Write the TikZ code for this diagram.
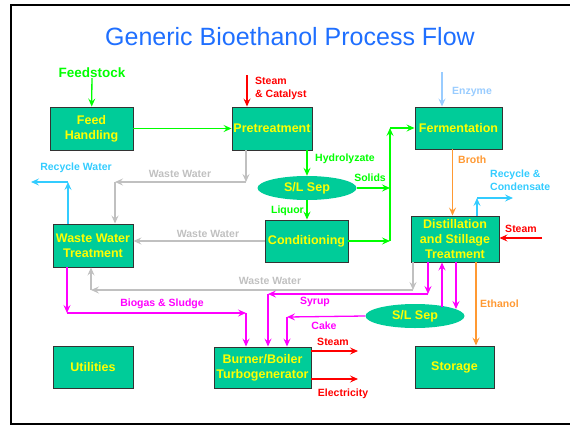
\documentclass[tikz,border=0pt]{standalone}
\usepackage{xcolor}
\usepackage{fontspec}
\setmainfont{Liberation Sans}
\usetikzlibrary{arrows.meta,shapes.geometric}
\definecolor{BioTeal}{HTML}{00CC99}
\definecolor{BioYellow}{HTML}{FFFF00}
\definecolor{BioTitle}{HTML}{1F6FFF}
\definecolor{BioGreen}{HTML}{00FF00}
\definecolor{BioRed}{HTML}{FF0000}
\definecolor{BioSky}{HTML}{99CCFF}
\definecolor{BioCyan}{HTML}{33CCFF}
\definecolor{BioGrey}{HTML}{C0C0C0}
\definecolor{BioOrange}{HTML}{FF9933}
\definecolor{BioMagenta}{HTML}{FF00FF}

\tikzset{
  unitbox/.style={draw=black!80, line width=0.9pt, fill=BioTeal, inner sep=0pt,
    align=center, text=BioYellow, font=\fontsize{12.5}{15}\selectfont\bfseries},
  sepbox/.style={ellipse, fill=BioTeal, inner sep=0pt, minimum width=99pt,
    minimum height=24pt, text=BioYellow, font=\fontsize{12.5}{15}\selectfont\bfseries},
  lbl/.style={inner sep=0pt, font=\fontsize{10.5}{13}\selectfont\bfseries, align=left},
  flow/.style={line width=1.3pt, -{Stealth[length=8pt,width=7pt,inset=3pt]}}
}

\begin{document}
\begin{tikzpicture}[x=1pt,y=-1pt]
    \useasboundingbox (0,0) rectangle (570,426);
    \draw[line width=2.5pt] (590,5) -- (11,5) -- (11,424) -- (590,424);
    \node[text=BioTitle, font=\fontsize{25}{30}\selectfont] (title) at (290,37) {Generic Bioethanol Process Flow};

    % process units
    \node[unitbox, minimum width=83pt, minimum height=43pt] (feed) at (91.5,128.5) {Feed\\Handling};
    \node[unitbox, minimum width=80pt, minimum height=43pt] (pre) at (272,128.5) {Pretreatment};
    \node[unitbox, minimum width=87pt, minimum height=42pt] (ferm) at (458.5,128) {Fermentation};
    \node[unitbox, minimum width=80pt, minimum height=43pt] (wwt) at (93,245.5) {Waste Water\\Treatment};
    \node[unitbox, minimum width=83pt, minimum height=42pt] (cond) at (306.5,241) {Conditioning};
    \node[unitbox, minimum width=88pt, minimum height=46pt] (dist) at (455,239) {Distillation\\and Stillage\\Treatment};
    \node[unitbox, minimum width=80pt, minimum height=42pt] (util) at (93,367) {Utilities};
    \node[unitbox, minimum width=97pt, minimum height=41pt] (burner) at (262.5,367.5) {Burner/Boiler\\Turbogenerator};
    \node[unitbox, minimum width=79pt, minimum height=42pt] (store) at (454.5,367) {Storage};
    \node[sepbox] (sep1) at (307,188) {S/L Sep};
    \node[sepbox] (sep2) at (415,316) {S/L Sep};

    % feed side
    \node[lbl, text=BioGreen, font=\fontsize{13.5}{16}\selectfont\bfseries] (feedstock) at (92,73) {Feedstock};
    \draw[flow, BioGreen] (feedstock) -- (feed);
    \draw[flow, BioGreen] (feed) -- (pre);
    \coordinate (catin) at (247,75);
    \draw[flow, BioRed] (catin) -- (catin |- pre.north);
    \node[lbl, text=BioRed, anchor=west] (catlbl) at (255,88) {Steam\\\& Catalyst};
    \coordinate (enzin) at (442,72);
    \draw[flow, BioSky] (enzin) -- (enzin |- ferm.north);
    \node[lbl, text=BioSky, anchor=west] (enzlbl) at (452,92) {Enzyme};

    % first separation
    \draw[flow, BioGreen] (sep1.north |- pre.south) -- (sep1.north);
    \node[lbl, text=BioGreen, anchor=west] (hydlbl) at (315,159) {Hydrolyzate};
    \draw[flow, BioGreen] (sep1.south) -- (sep1.south |- cond.north);
    \node[lbl, text=BioGreen, anchor=east] (liqlbl) at (304,211) {Liquor};
    \coordinate (riser) at (390,188);
    \draw[flow, BioGreen] (sep1.east) -- (riser);
    \node[lbl, text=BioGreen] (sollbl) at (370,178) {Solids};
    \draw[flow, BioGreen] (cond.east) -- (cond.east -| riser);
    \draw[flow, BioGreen] (cond.east -| riser) -- (riser |- ferm.west);
    \draw[flow, BioGreen] (riser |- ferm.west) -- (ferm.west);

    % waste water
    \coordinate (ww1) at (246,182);
    \coordinate (ww1l) at (115,182);
    \draw[flow, BioGrey] (ww1 |- pre.south) -- (ww1);
    \draw[flow, BioGrey] (ww1) -- (ww1l);
    \draw[flow, BioGrey] (ww1l) -- (ww1l |- wwt.north);
    \node[lbl, text=BioGrey] (ww1lbl) at (180,174) {Waste Water};
    \draw[flow, BioGrey] (cond.west) -- (cond.west -| wwt.east);
    \node[lbl, text=BioGrey] (ww2lbl) at (208,234) {Waste Water};
    \coordinate (ww3) at (413,290);
    \coordinate (ww3l) at (91,290);
    \draw[flow, BioGrey] (ww3 |- dist.south) -- (ww3);
    \draw[flow, BioGrey] (ww3) -- (ww3l);
    \draw[flow, BioGrey] (ww3l) -- (ww3l |- wwt.south);
    \node[lbl, text=BioGrey] (ww3lbl) at (270,281) {Waste Water};
    \coordinate (rw) at (68,182);
    \coordinate (rwout) at (31,182);
    \draw[flow, BioCyan] (rw |- wwt.north) -- (rw);
    \draw[flow, BioCyan] (rw) -- (rwout);
    \node[lbl, text=BioCyan] (rwlbl) at (76,168) {Recycle Water};

    % distillation
    \draw[flow, BioOrange] ([xshift=-6pt]ferm.south) -- ([xshift=-6pt]ferm.south |- dist.north);
    \node[lbl, text=BioOrange, anchor=west] (brlbl) at (458,160) {Broth};
    \coordinate (rc) at (477,198);
    \coordinate (rcout) at (513,198);
    \draw[flow, BioCyan] (rc |- dist.north) -- (rc);
    \draw[flow, BioCyan] (rc) -- (rcout);
    \node[lbl, text=BioCyan, anchor=west] (rclbl) at (490,180) {Recycle \&\\Condensate};
    \coordinate (stin) at (542,238);
    \draw[flow, BioRed] (stin) -- (stin -| dist.east);
    \node[lbl, text=BioRed] (stinlbl) at (521,229) {Steam};
    \coordinate (eth) at (476,300);
    \draw[flow, BioOrange] (eth |- dist.south) -- (eth |- store.north);
    \node[lbl, text=BioOrange, anchor=west] (ethlbl) at (480,304) {Ethanol};

    % stillage to burner
    \coordinate (sy) at (428,294);
    \coordinate (syl) at (268,294);
    \draw[flow, BioMagenta] (sy |- dist.south) -- (sy);
    \draw[flow, BioMagenta] (sy) -- (syl);
    \draw[flow, BioMagenta] (syl) -- (syl |- burner.north);
    \node[lbl, text=BioMagenta] (sylbl) at (315,302) {Syrup};
    \coordinate (up2) at (442,307);
    \coordinate (dn2) at (456,309);
    \draw[flow, BioMagenta] (up2) -- (up2 |- dist.south);
    \draw[flow, BioMagenta] (dn2 |- dist.south) -- (dn2);
    \coordinate (ck) at (287,317);
    \draw[flow, BioMagenta] (sep2.west) -- (ck);
    \draw[flow, BioMagenta] (ck) -- (ck |- burner.north);
    \node[lbl, text=BioMagenta] (cklbl) at (324,326) {Cake};
    \coordinate (bg) at (67,313);
    \coordinate (bgr) at (246,313);
    \draw[flow, BioMagenta] (bg |- wwt.south) -- (bg);
    \draw[flow, BioMagenta] (bg) -- (bgr);
    \draw[flow, BioMagenta] (bgr) -- (bgr |- burner.north);
    \node[lbl, text=BioMagenta] (bglbl) at (162,304) {Biogas \& Sludge};

    % burner outputs
    \coordinate (so) at (358,351);
    \coordinate (eo) at (358,379);
    \draw[flow, BioRed] (so -| burner.east) -- (so);
    \draw[flow, BioRed] (eo -| burner.east) -- (eo);
    \node[lbl, text=BioRed] (solbl) at (333,342) {Steam};
    \node[lbl, text=BioRed] (eolbl) at (343,394) {Electricity};
\end{tikzpicture}
\end{document}
